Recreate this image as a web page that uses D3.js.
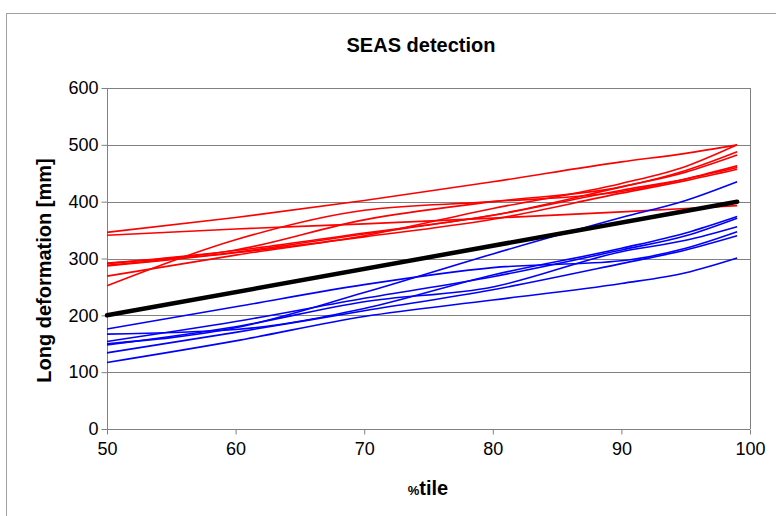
<!DOCTYPE html>
<html>
<head>
<meta charset="utf-8">
<script src="https://cdn.jsdelivr.net/npm/d3@7"></script>
<style>
  body { margin: 0; background: #fff; }
  svg { display: block; font-family: "Liberation Sans", Arial, sans-serif; }
</style>
</head>
<body>
<div id="chart"></div>
<script>
// percentiles at which each curve is sampled
const pct = [50, 60, 70, 80, 90, 95, 99];

// red curves
const redSeries = [
  [346, 372, 402, 435, 470, 485, 500],
  [341, 352, 361, 371, 382, 388, 393],
  [252, 333, 385, 400, 418, 440, 463],
  [269, 306, 340, 388, 432, 462, 500],
  [292, 315, 368, 400, 426, 455, 488],
  [291, 314, 345, 376, 426, 452, 482],
  [288, 311, 343, 376, 420, 440, 460],
  [287, 310, 338, 369, 415, 437, 457]
];

// blue curves
const blueSeries = [
  [150, 178, 240, 308, 372, 402, 435],
  [176, 215, 254, 284, 296, 318, 347],
  [167, 175, 212, 271, 318, 345, 374],
  [154, 189, 230, 268, 315, 340, 371],
  [148, 180, 224, 250, 312, 332, 356],
  [134, 170, 208, 245, 291, 315, 340],
  [117, 155, 198, 227, 256, 275, 301]
];

// thick black reference line
const blackX = [50, 99];
const blackY = [200, 400];

const xTicks = [50, 60, 70, 80, 90, 100];
const yTicks = [0, 100, 200, 300, 400, 500, 600];

const W = 776, H = 516;
const margin = { left: 107, right: 26, top: 88, bottom: 87 };
const width = W - margin.left - margin.right;
const height = H - margin.top - margin.bottom;

const svg = d3.select("#chart")
  .append("svg")
  .attr("width", W)
  .attr("height", H);

// chart area frame
svg.append("rect")
  .attr("x", 6.5).attr("y", 13.5)
  .attr("width", 900).attr("height", 600)
  .attr("fill", "none")
  .attr("stroke", "#a0a0a0");

const g = svg.append("g")
  .attr("transform", `translate(${margin.left},${margin.top})`);

const x = d3.scaleLinear().domain([50, 100]).range([0, width]);
const y = d3.scaleLinear().domain([0, 600]).range([height, 0]);

// gridlines
g.append("g")
  .selectAll("line")
  .data(yTicks)
  .enter()
  .append("line")
  .attr("x1", 0).attr("x2", width)
  .attr("y1", d => Math.round(y(d)) + 0.5)
  .attr("y2", d => Math.round(y(d)) + 0.5)
  .attr("stroke", "#808080");

// right border
g.append("line")
  .attr("x1", width + 0.5).attr("x2", width + 0.5)
  .attr("y1", 0).attr("y2", height)
  .attr("stroke", "#808080");

// X axis
const xAxis = g.append("g")
  .attr("transform", `translate(0,${Math.round(height) + 0.5})`)
  .call(d3.axisBottom(x).tickValues(xTicks).tickSize(5).tickPadding(8));
xAxis.selectAll("path, line").attr("stroke", "#808080");
xAxis.selectAll("text").attr("font-size", 18).attr("fill", "#000");

// Y axis
const yAxis = g.append("g")
  .attr("transform", "translate(0.5,0)")
  .call(d3.axisLeft(y).tickValues(yTicks).tickSize(6).tickPadding(3));
yAxis.selectAll("path, line").attr("stroke", "#808080");
yAxis.selectAll("text").attr("font-size", 18).attr("fill", "#000");
yAxis.select(".domain").attr("d", `M0,${height}V0`);
xAxis.select(".domain").attr("d", `M0,0H${width}`);

const line = d3.line()
  .x((d, i) => x(pct[i]))
  .y(d => y(d))
  .curve(d3.curveMonotoneX);

g.selectAll(".red")
  .data(redSeries)
  .enter()
  .append("path")
  .attr("d", line)
  .attr("fill", "none")
  .attr("stroke", "#ff0000")
  .attr("stroke-width", 1.6);

g.selectAll(".blue")
  .data(blueSeries)
  .enter()
  .append("path")
  .attr("d", line)
  .attr("fill", "none")
  .attr("stroke", "#0000ff")
  .attr("stroke-width", 1.6);

const blackLine = d3.line()
  .x((d, i) => x(blackX[i]))
  .y(d => y(d));

g.append("path")
  .datum(blackY)
  .attr("d", blackLine)
  .attr("fill", "none")
  .attr("stroke", "#000")
  .attr("stroke-width", 4.5)
  .attr("stroke-linecap", "round");

// title
svg.append("text")
  .attr("x", 421).attr("y", 52)
  .attr("text-anchor", "middle")
  .attr("font-size", 20).attr("font-weight", "bold")
  .text("SEAS detection");

// x title
const xt = svg.append("text")
  .attr("x", 428).attr("y", 495)
  .attr("text-anchor", "middle")
  .attr("font-weight", "bold");
xt.append("tspan").attr("font-size", 13).text("%");
xt.append("tspan").attr("font-size", 20).text("tile");

// y title
svg.append("text")
  .attr("transform", `translate(51,${margin.top + height / 2 + 12}) rotate(-90)`)
  .attr("text-anchor", "middle")
  .attr("font-size", 20).attr("font-weight", "bold")
  .text("Long deformation [mm]");
</script>
</body>
</html>
